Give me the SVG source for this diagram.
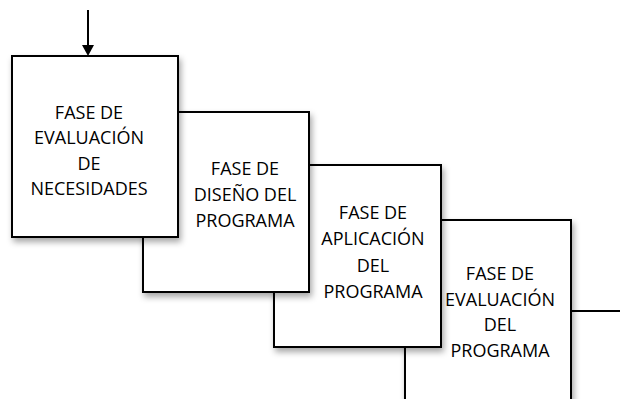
<svg xmlns="http://www.w3.org/2000/svg" width="620" height="399" viewBox="0 0 620 399">
<style>
.box{fill:#fff;stroke:#000;stroke-width:2;filter:url(#sh)}
.t{font-family:"Open Sans","Liberation Sans",sans-serif;font-size:18px;fill:#000;text-anchor:middle}
.ln{stroke:#000;stroke-width:2;fill:none}
</style>
<defs>
<filter id="sh" x="-10%" y="-10%" width="130%" height="130%">
<feDropShadow dx="2" dy="4" stdDeviation="3" flood-color="#000" flood-opacity="0.35"/>
</filter>
</defs>
<rect width="620" height="399" fill="#fff"/>
<g id="connectors">
<line class="ln" x1="88" y1="10" x2="88" y2="45"/>
<path d="M82,45 L94,45 L88,56 Z" fill="#000"/>
<line class="ln" x1="571" y1="311" x2="620" y2="311"/>
</g>
<g id="node4">
<rect class="box" x="405" y="220" width="166" height="200"/>
<text class="t" x="500" y="280">FASE DE</text>
<text class="t" x="500" y="305.5">EVALUACIÓN</text>
<text class="t" x="500" y="331">DEL</text>
<text class="t" x="500" y="356.5">PROGRAMA</text>
</g>
<g id="node3">
<rect class="box" x="274" y="165" width="167" height="182"/>
<text class="t" x="373" y="219">FASE DE</text>
<text class="t" x="373" y="245">APLICACIÓN</text>
<text class="t" x="373" y="271.5">DEL</text>
<text class="t" x="373" y="298">PROGRAMA</text>
</g>
<g id="node2">
<rect class="box" x="143" y="112" width="166" height="180"/>
<text class="t" x="245" y="174.5">FASE DE</text>
<text class="t" x="245" y="201">DISEÑO DEL</text>
<text class="t" x="245" y="227">PROGRAMA</text>
</g>
<g id="node1">
<rect class="box" x="12" y="56" width="166" height="181"/>
<text class="t" x="89" y="119">FASE DE</text>
<text class="t" x="89" y="144">EVALUACIÓN</text>
<text class="t" x="89" y="169.5">DE</text>
<text class="t" x="89" y="195">NECESIDADES</text>
</g>
</svg>
